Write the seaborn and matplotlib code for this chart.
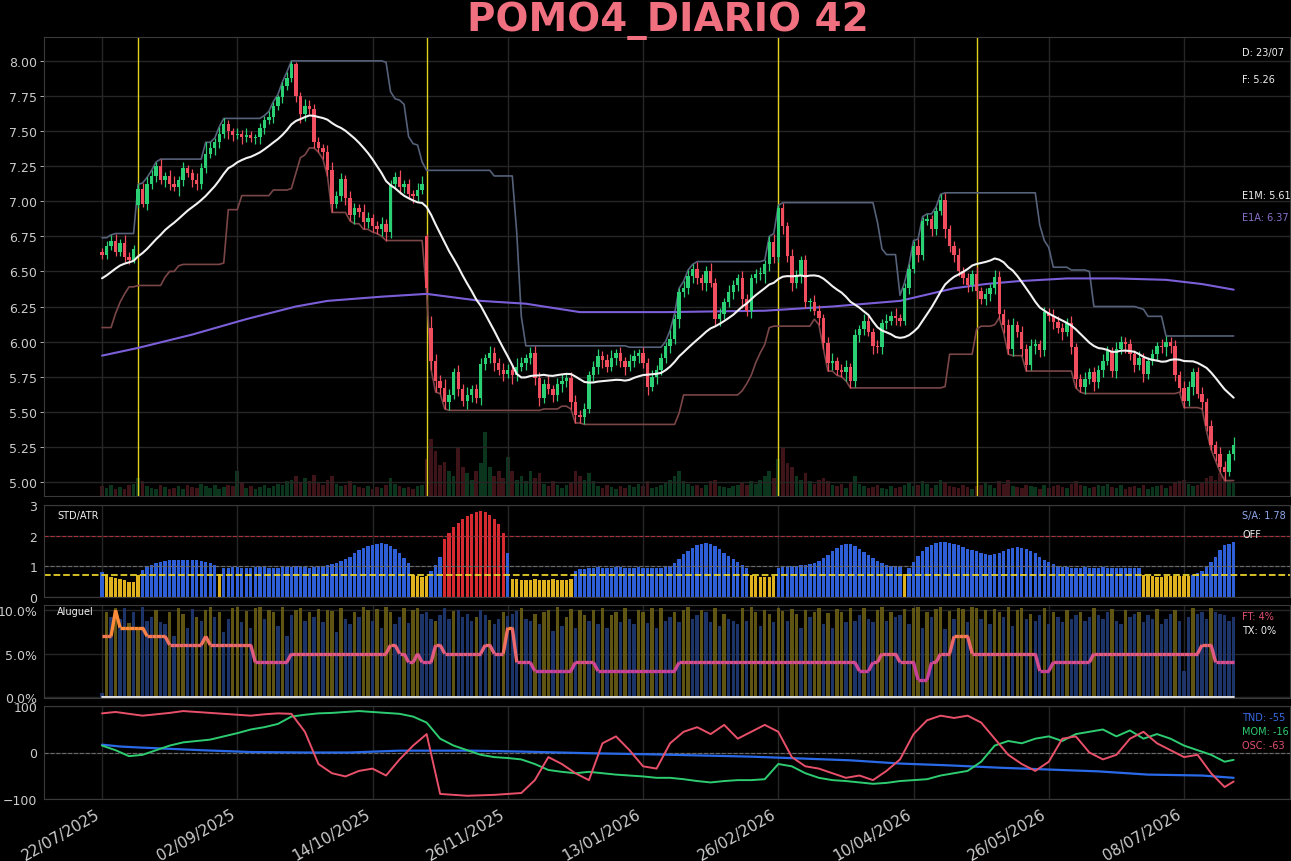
import numpy as np
import pandas as pd
import matplotlib
matplotlib.use("Agg")
import matplotlib.pyplot as plt
import seaborn as sns
from matplotlib.collections import LineCollection
from matplotlib.colors import LinearSegmentedColormap

# ---------------- data ----------------
titulo = "POMO4_DIARIO 42"
datas_ticks = ["22/07/2025", "02/09/2025", "14/10/2025", "26/11/2025", "13/01/2026",
               "26/02/2026", "10/04/2026", "26/05/2026", "08/07/2026"]
ticks_idx = [0, 30, 60, 90, 120, 150, 180, 210, 240]

# 20 bars before the first visible bar (needed by the 21-bar windows)
pre_fech = [6.25, 6.20, 6.14, 6.24, 6.32, 6.38, 6.44, 6.42, 6.48, 6.50,
            6.46, 6.52, 6.50, 6.45, 6.55, 6.58, 6.56, 6.62, 6.60, 6.64]
pre_max = [6.30, 6.28, 6.22, 6.28, 6.36, 6.42, 6.48, 6.47, 6.52, 6.55,
           6.53, 6.56, 6.56, 6.52, 6.60, 6.63, 6.62, 6.68, 6.70, 6.74]
pre_min = [6.18, 6.15, 6.10, 6.20, 6.28, 6.34, 6.39, 6.39, 6.42, 6.44,
           6.42, 6.44, 6.45, 6.40, 6.46, 6.52, 6.50, 6.54, 6.55, 6.57]

fechamento = [
    6.62, 6.68, 6.72, 6.64, 6.70, 6.60, 6.58, 6.66, 7.09, 6.98, 7.12, 7.18,
    7.25, 7.15, 7.18, 7.12, 7.10, 7.15, 7.24, 7.20, 7.15, 7.12, 7.24, 7.34,
    7.38, 7.42, 7.48, 7.55, 7.50, 7.47, 7.48, 7.46, 7.47, 7.45, 7.46, 7.52,
    7.58, 7.60, 7.68, 7.74, 7.82, 7.88, 7.98, 7.75, 7.62, 7.68, 7.66, 7.42,
    7.38, 7.35, 7.22, 6.98, 7.04, 7.16, 7.02, 6.90, 6.95, 6.92, 6.85, 6.88,
    6.82, 6.80, 6.84, 6.78, 7.12, 7.17, 7.10, 7.12, 7.05, 7.04, 7.08, 7.12,
    6.38, 5.86, 5.72, 5.67, 5.57, 5.62, 5.78, 5.66, 5.58, 5.62, 5.66, 5.60,
    5.84, 5.88, 5.92, 5.85, 5.80, 5.77, 5.80, 5.76, 5.82, 5.85, 5.88, 5.92,
    5.74, 5.60, 5.70, 5.66, 5.62, 5.70, 5.72, 5.74, 5.57, 5.48, 5.46, 5.52,
    5.76, 5.82, 5.90, 5.87, 5.82, 5.88, 5.92, 5.86, 5.82, 5.86, 5.90, 5.92,
    5.85, 5.68, 5.75, 5.80, 5.88, 5.97, 6.02, 6.16, 6.35, 6.38, 6.47, 6.52,
    6.45, 6.42, 6.50, 6.42, 6.16, 6.20, 6.28, 6.35, 6.40, 6.45, 6.30, 6.22,
    6.45, 6.48, 6.48, 6.55, 6.71, 6.60, 6.95, 6.82, 6.61, 6.42, 6.47, 6.58,
    6.28, 6.28, 6.22, 6.17, 5.99, 5.85, 5.86, 5.80, 5.78, 5.82, 5.72, 6.05,
    6.09, 6.15, 6.07, 5.97, 5.96, 6.13, 6.15, 6.18, 6.17, 6.15, 6.38, 6.52,
    6.68, 6.62, 6.86, 6.87, 6.80, 6.93, 7.01, 6.80, 6.68, 6.62, 6.50, 6.45,
    6.40, 6.48, 6.36, 6.30, 6.34, 6.38, 6.46, 6.20, 6.12, 5.95, 6.12, 6.07,
    5.95, 5.83, 5.97, 5.98, 5.94, 6.21, 6.18, 6.14, 6.10, 6.07, 6.13, 5.96,
    5.73, 5.68, 5.73, 5.78, 5.71, 5.80, 5.86, 5.93, 5.79, 5.95, 6.00, 5.98,
    5.91, 5.83, 5.88, 5.77, 5.86, 5.91, 5.97, 5.96, 6.00, 5.97, 5.76, 5.67,
    5.58, 5.68, 5.78, 5.63, 5.57, 5.40, 5.26, 5.20, 5.11, 5.07, 5.20, 5.26,
]
abertura_gap = {8: 6.97, 72: 6.75, 73: 6.10}

pavio_sup = [  # upper wick, cents
    3, 4, 4, 5, 3, 6, 4, 3, 3, 4, 5, 4, 3, 5, 3, 4, 6, 3, 4, 2, 3, 5, 3, 8,
    4, 3, 5, 4, 3, 2, 4, 3, 5, 3, 2, 4, 3, 4, 3, 2, 3, 4, 2, 1, 3, 5, 4, 3,
    4, 3, 5, 6, 3, 4, 3, 5, 4, 3, 6, 4, 3, 4, 5, 3, 3, 4, 5, 3, 4, 3, 5, 6,
    2, 8, 5, 4, 6, 4, 3, 5, 4, 6, 3, 4, 4, 3, 5, 4, 3, 5, 4, 3, 6, 4, 3, 4,
    5, 4, 3, 6, 3, 4, 5, 3, 4, 5, 3, 4, 3, 4, 5, 3, 4, 6, 3, 4, 3, 5, 4, 3,
    4, 3, 5, 3, 4, 3, 6, 4, 3, 5, 4, 3, 5, 3, 4, 6, 3, 4, 3, 5, 4, 3, 5, 4,
    3, 4, 5, 3, 4, 6, 2, 4, 3, 5, 4, 3, 4, 3, 5, 4, 3, 4, 6, 3, 4, 5, 3, 4,
    3, 5, 4, 3, 4, 3, 5, 4, 6, 3, 4, 3, 4, 5, 3, 4, 3, 3, 4, 5, 3, 4, 5, 3,
    4, 3, 5, 3, 4, 3, 5, 4, 3, 4, 5, 3, 4, 3, 5, 4, 3, 4, 3, 5, 4, 3, 4, 5,
    3, 4, 5, 3, 4, 3, 5, 4, 3, 5, 4, 3, 4, 3, 5, 4, 3, 4, 3, 5, 4, 3, 4, 3,
    5, 4, 3, 4, 5, 3, 4, 3, 5, 4, 3, 6,
]
pavio_inf = [  # lower wick, cents
    3, 3, 3, 3, 3, 3, 3, 2, 2, 2, 4, 3, 4, 3, 5, 4, 3, 6, 4, 3, 5, 4, 3, 4,
    3, 5, 4, 3, 6, 4, 3, 5, 4, 3, 4, 5, 4, 3, 4, 3, 4, 3, 3, 4, 6, 5, 4, 4,
    3, 5, 4, 6, 3, 4, 5, 4, 6, 3, 5, 4, 4, 3, 5, 6, 4, 3, 5, 4, 3, 5, 4, 3,
    3, 6, 8, 4, 5, 6, 3, 5, 4, 6, 5, 4, 5, 4, 3, 6, 4, 5, 3, 6, 4, 3, 5, 4,
    5, 6, 4, 3, 5, 4, 6, 4, 5, 6, 4, 5, 3, 4, 5, 6, 4, 3, 5, 4, 6, 3, 4, 5,
    4, 6, 3, 5, 4, 3, 5, 4, 6, 3, 4, 5, 4, 5, 6, 3, 4, 5, 4, 3, 5, 4, 6, 4,
    5, 3, 4, 6, 5, 4, 3, 5, 4, 6, 4, 5, 4, 6, 3, 5, 4, 6, 5, 4, 3, 6, 5, 4,
    5, 4, 3, 6, 4, 5, 4, 3, 5, 4, 3, 4, 3, 5, 4, 3, 5, 4, 3, 6, 4, 5, 3, 4,
    5, 4, 6, 3, 4, 5, 4, 3, 6, 4, 5, 4, 5, 4, 3, 6, 5, 4, 3, 5, 4, 6, 3, 5,
    6, 4, 5, 3, 6, 4, 5, 3, 4, 5, 4, 6, 4, 5, 3, 6, 4, 3, 5, 4, 6, 5, 4, 3,
    5, 4, 6, 3, 5, 4, 3, 5, 4, 6, 3, 4,
]
volume = [
    12, 10, 14, 9, 11, 8, 13, 15, 22, 18, 12, 10, 9, 14, 11, 8, 10, 12, 9, 13, 11, 10, 15, 12,
    10, 14, 9, 11, 13, 12, 30, 16, 10, 12, 9, 11, 13, 10, 12, 15, 14, 18, 20, 24, 16, 22, 18, 26,
    17, 14, 20, 25, 15, 12, 14, 18, 13, 11, 10, 12, 9, 11, 10, 13, 22, 15, 12, 10, 11, 9, 12, 14,
    45, 70, 55, 38, 42, 30, 25, 60, 35, 28, 20, 30, 40, 78, 35, 25, 30, 22, 48, 30, 20, 25, 18, 30,
    22, 28, 15, 12, 18, 14, 10, 13, 16, 30, 25, 20, 28, 18, 12, 10, 14, 11, 9, 12, 10, 13, 11, 15,
    12, 18, 10, 11, 14, 16, 20, 25, 30, 18, 15, 12, 14, 10, 13, 18, 20, 12, 11, 10, 12, 14, 16, 13,
    18, 15, 20, 25, 30, 22, 45, 60, 40, 35, 25, 20, 28, 18, 15, 20, 22, 18, 14, 12, 15, 10, 16, 24,
    15, 12, 10, 11, 13, 10, 9, 12, 10, 11, 14, 16, 12, 14, 18, 15, 10, 13, 20, 16, 12, 11, 10, 13,
    11, 9, 12, 14, 16, 13, 10, 18, 15, 20, 12, 11, 10, 14, 12, 11, 9, 13, 10, 12, 14, 11, 10, 15,
    18, 14, 12, 10, 11, 13, 12, 15, 11, 10, 13, 9, 11, 12, 10, 13, 9, 11, 12, 14, 10, 12, 16, 18,
    20, 15, 12, 14, 16, 22, 25, 20, 28, 24, 18, 16,
]
# long average (E1A) read at these bars
e1a_idx = [0, 8, 20, 32, 43, 50, 62, 72, 84, 94, 106, 125, 147, 162, 177, 189, 196, 203, 214, 225, 236, 244, 251]
e1a_val = [5.90, 5.955, 6.05, 6.16, 6.25, 6.29, 6.32, 6.34, 6.29, 6.27, 6.21, 6.21, 6.22, 6.25, 6.29,
           6.38, 6.41, 6.43, 6.45, 6.45, 6.44, 6.41, 6.37]
sinais = [8, 72, 150, 194]

std_atr = [
    0.83, 0.72, 0.66, 0.62, 0.58, 0.55, 0.50, 0.50, 0.72, 0.88, 0.98, 1.05,
    1.12, 1.15, 1.18, 1.20, 1.22, 1.20, 1.22, 1.20, 1.22, 1.20, 1.18, 1.15,
    1.12, 1.05, 0.74, 0.95, 0.96, 0.98, 0.97, 0.96, 0.95, 0.96, 0.97, 0.98,
    0.97, 0.96, 0.95, 0.96, 0.97, 0.98, 0.99, 1.00, 0.98, 0.97, 0.96, 0.98,
    1.00, 1.02, 1.05, 1.08, 1.12, 1.18, 1.25, 1.32, 1.42, 1.52, 1.60, 1.66,
    1.70, 1.74, 1.75, 1.72, 1.66, 1.55, 1.42, 1.28, 1.12, 0.72, 0.70, 0.66,
    0.68, 0.85, 1.05, 1.30, 1.90, 2.10, 2.28, 2.42, 2.55, 2.65, 2.72, 2.78,
    2.80, 2.76, 2.68, 2.55, 2.38, 2.10, 1.45, 0.60, 0.58, 0.56, 0.55, 0.57,
    0.58, 0.56, 0.55, 0.57, 0.58, 0.56, 0.55, 0.57, 0.58, 0.85, 0.90, 0.92,
    0.95, 0.96, 0.97, 0.96, 0.95, 0.96, 0.97, 0.98, 0.96, 0.95, 0.96, 0.97,
    0.96, 0.95, 0.94, 0.95, 0.96, 0.98, 1.02, 1.10, 1.25, 1.40, 1.50, 1.60,
    1.68, 1.72, 1.75, 1.72, 1.65, 1.55, 1.45, 1.35, 1.25, 1.15, 1.05, 0.95,
    0.72, 0.68, 0.65, 0.64, 0.66, 0.70, 0.95, 1.00, 1.02, 1.00, 1.01, 1.03,
    1.05, 1.08, 1.12, 1.18, 1.26, 1.38, 1.50, 1.60, 1.68, 1.74, 1.72, 1.66,
    1.56, 1.46, 1.36, 1.26, 1.16, 1.10, 1.05, 1.02, 1.00, 0.98, 0.76, 0.95,
    1.15, 1.35, 1.50, 1.62, 1.70, 1.76, 1.80, 1.79, 1.76, 1.72, 1.68, 1.63,
    1.58, 1.54, 1.50, 1.45, 1.40, 1.38, 1.40, 1.45, 1.50, 1.55, 1.60, 1.62,
    1.60, 1.56, 1.50, 1.42, 1.32, 1.22, 1.14, 1.06, 1.00, 0.98, 0.97, 0.96,
    0.95, 0.96, 0.97, 0.96, 0.95, 0.96, 0.97, 0.96, 0.95, 0.96, 0.95, 0.94,
    0.95, 0.94, 0.93, 0.72, 0.70, 0.68, 0.66, 0.65, 0.67, 0.69, 0.70, 0.68,
    0.67, 0.69, 0.72, 0.78, 0.85, 1.00, 1.14, 1.30, 1.52, 1.68, 1.74, 1.78,
]
std_estado = ("BYYYYYYYYBBB" "BBBBBBBBBBBB" "BBYBBBBBBBBB" "BBBBBBBBBBBB" "BBBBBBBBBBBB"
              "BBBBBBBBBYYY" "YBBBRRRRRRRR" "RRRRRRBYYYYY" "YYYYYYYYYBBB" "BBBBBBBBBBBB"
              "BBBBBBBBBBBB" "BBBBBBBBBBBB" "YYYYYYBBBBBB" "BBBBBBBBBBBB" "BBBBBBBBBBYB"
              "BBBBBBBBBBBB" "BBBBBBBBBBBB" "BBBBBBBBBBBB" "BBBBBBBBBBBB" "BBBYYYYYYYYY"
              "YYBBBBBBBBBB")

aluguel_alt = [  # tenths of a percent
    5, 98, 92, 102, 90, 102, 85, 98, 80, 104, 88, 92, 100, 86, 84, 98, 70, 102, 96, 80, 101, 92, 88, 100,
    104, 92, 98, 75, 90, 102, 104, 86, 99, 80, 102, 104, 90, 100, 98, 82, 104, 70, 95, 100, 103, 88, 98, 92,
    101, 86, 100, 99, 75, 103, 90, 84, 98, 92, 104, 100, 88, 101, 80, 104, 98, 84, 92, 103, 85, 100, 102, 96,
    98, 90, 88, 94, 102, 90, 99, 100, 92, 96, 88, 92, 100, 94, 89, 84, 90, 98, 93, 96, 99, 102, 90, 88,
    96, 84, 98, 100, 76, 104, 82, 92, 101, 80, 100, 95, 88, 100, 84, 103, 80, 95, 98, 86, 102, 90, 84, 100,
    98, 85, 102, 80, 103, 88, 92, 98, 86, 100, 104, 90, 95, 100, 98, 86, 102, 82, 96, 90, 88, 84, 102, 88,
    104, 98, 82, 100, 96, 86, 103, 99, 88, 101, 96, 80, 100, 92, 98, 103, 84, 97, 80, 101, 98, 86, 102, 88,
    94, 103, 90, 86, 100, 104, 88, 98, 92, 95, 101, 84, 102, 104, 80, 98, 92, 101, 104, 78, 99, 90, 103, 101,
    86, 104, 102, 90, 100, 84, 101, 98, 92, 104, 82, 100, 102, 90, 96, 88, 94, 103, 84, 98, 92, 86, 100, 90,
    95, 98, 88, 92, 102, 94, 90, 98, 101, 88, 84, 100, 92, 96, 98, 86, 94, 90, 101, 84, 90, 96, 100, 88,
    30, 92, 102, 96, 98, 90, 102, 98, 96, 94, 88, 92,
]
aluguel_cor = ("BOBOBBOBOBBB" "OBBOBOOBBOBO" "OBOBBOOBOBOO" "BOOBOBBOOBOB" "OBOOBOBBOBOO"
               "BOBOOBBOBOOB" "BBOBBBOBBBBO" "BBOBBOBBBOBB" "OBOOBOBOOBOO" "BOBOBOOBOBBO"
               "OBOBOBBOBOOB" "BOBBOBOBBBOB" "OOBOOBOOBOOB" "OBOOBOBOOBOB" "BOBBOOBOBBOB"
               "OOBOBOOBOBOO" "BOOBOBOOBOBO" "OBOBBOBOBBOB" "BOBBOBBBOBBO" "BBOBBBOBBBOB"
               "BBOBBBOBBBBB")
# FT (%) as runs: level, number of bars
ft_nivel = [7, 10, 8, 7, 6, 7, 6, 4, 5, 6, 5, 4, 5, 4, 6, 5, 6, 5, 8, 4, 3, 4, 3, 4,
            3, 4, 5, 4, 2, 4, 5, 7, 5, 3, 4, 5, 6, 4]
ft_barras = [3, 1, 6, 5, 8, 1, 10, 8, 22, 2, 2, 2, 1, 3, 2, 9, 2, 3, 2, 4, 9, 5, 18, 40,
             3, 2, 4, 4, 3, 2, 3, 4, 15, 3, 9, 24, 3, 5]
tx_pct = 0.0

osc_idx = list(range(0, 250, 3)) + [251]
osc_val = [85, 88, 84, 80, 83, 86, 90, 88, 86, 84, 82, 80, 83, 85, 84, 45, -25, -45, -52, -40,
           -35, -50, -15, 15, 40, -90, -92, -94, -93, -92, -90, -88, -60, -10, -25, -45, -60, 20,
           35, 5, -30, -35, 20, 45, 55, 40, 60, 30, 45, 60, 45, -10, -30, -35, -45, -55, -50, -60,
           -40, -15, 40, 70, 80, 75, 80, 65, 30, -5, -25, -40, -20, 30, 35, 0, -15, -5, 30, 45,
           20, 5, -10, -5, -45, -75, -63]
mom_val = [15, 5, -8, -5, 5, 15, 22, 25, 28, 35, 42, 50, 55, 62, 78, 82, 85, 86, 88, 90,
           88, 86, 84, 78, 65, 30, 15, 5, -5, -10, -12, -15, -25, -38, -42, -45, -42, -45,
           -48, -50, -52, -55, -55, -58, -62, -65, -62, -60, -60, -58, -25, -30, -45, -55, -60, -62,
           -65, -68, -66, -62, -60, -58, -50, -45, -40, -20, 15, 25, 20, 30, 35, 25, 40, 45,
           50, 35, 48, 30, 40, 30, 15, 5, -5, -20, -16]
tnd_idx = [0, 4, 8, 15, 22, 33, 45, 55, 66, 82, 93, 110, 122, 144, 155, 166, 177, 188, 199, 210, 221, 232, 244, 251]
tnd_val = [17, 13, 11, 8, 5, 1, 0, 0, 4, 4, 2, -2, -4, -9, -13, -17, -24, -28, -33, -37, -41, -48, -50, -55]

rotulos = {"D": "23/07", "F": "5.26", "E1M": "5.61", "E1A": "6.37", "S/A": "1.78",
           "FT": "4%", "TX": "0%", "TND": "-55", "MOM": "-16", "OSC": "-63"}

# ---------------- derived ----------------
n = len(fechamento)
for nome, arr in [("pavio_sup", pavio_sup), ("pavio_inf", pavio_inf), ("volume", volume),
                  ("std_atr", std_atr), ("std_estado", std_estado), ("aluguel_alt", aluguel_alt),
                  ("aluguel_cor", aluguel_cor)]:
    assert len(arr) == n, (nome, len(arr))
assert sum(ft_barras) == n, sum(ft_barras)
assert len(osc_val) == len(osc_idx) == len(mom_val), (len(osc_val), len(osc_idx), len(mom_val))

idx = np.arange(n)
c = np.array(fechamento, float)
o = np.r_[pre_fech[-1], c[:-1]]
for k, v in abertura_gap.items():
    o[k] = v
top = np.maximum(o, c)
bot = np.minimum(o, c)
hi = top + np.array(pavio_sup) / 100
lo = bot - np.array(pavio_inf) / 100
Hs = pd.Series(np.r_[pre_max, hi])
Ls = pd.Series(np.r_[pre_min, lo])
Cs = pd.Series(np.r_[pre_fech, c])
canal_sup = Hs.rolling(21).max().values[-n:]
canal_inf = Ls.rolling(21).min().values[-n:]
e1m = Cs.rolling(21).mean().values[-n:]
ft = np.repeat(ft_nivel, ft_barras).astype(float)

# ---------------- style ----------------
sns.set_theme(style="dark", rc={
    "figure.facecolor": "#000000", "axes.facecolor": "#000000",
    "axes.edgecolor": "#3a3a3a", "grid.color": "#262626", "axes.grid": True,
    "text.color": "#e0e0e0", "xtick.color": "#cccccc", "ytick.color": "#cccccc",
    "axes.labelcolor": "#cccccc"})
plt.rcParams["font.family"] = ["DejaVu Sans"]

VERDE = "#2bcf74"
VERMELHO = "#f04e5e"

fig = plt.figure(figsize=(12.91, 8.62), dpi=100)
L0, W0 = 44 / 1291, (1290 - 44) / 1291
ax1 = fig.add_axes([L0, 1 - 497 / 862, W0, 459 / 862])
ax2 = fig.add_axes([L0, 1 - 598 / 862, W0, 92 / 862], sharex=ax1)
ax3 = fig.add_axes([L0, 1 - 699 / 862, W0, 93 / 862], sharex=ax1)
ax4 = fig.add_axes([L0, 1 - 800 / 862, W0, 93 / 862], sharex=ax1)

for ax in (ax1, ax2, ax3, ax4):
    ax.set_facecolor("#000000")
    ax.grid(True, color="#262626", lw=1)
    for s in ax.spines.values():
        s.set_color("#3a3a3a")
        s.set_linewidth(0.8)
    ax.tick_params(axis="both", colors="#cccccc", labelsize=9, length=3, width=0.6, pad=2)

# ---- main panel ----
sobe = c >= o
cores = np.where(sobe, VERDE, VERMELHO)
axv = ax1.twinx()
axv.bar(idx, volume, width=0.8, color=cores, alpha=0.26, lw=0)
axv.set_ylim(0, 560)
axv.set_yticks([])
axv.grid(False)
for s in axv.spines.values():
    s.set_visible(False)
ax1.set_zorder(axv.get_zorder() + 1)
ax1.patch.set_visible(False)

for s in sinais:
    ax1.axvline(s, color="#e3d21c", lw=1.0, zorder=1)

sns.lineplot(x=idx, y=canal_sup, ax=ax1, color="#56617a", lw=1.2, zorder=2)
sns.lineplot(x=idx, y=canal_inf, ax=ax1, color="#7a4648", lw=1.2, zorder=2)
sns.lineplot(x=e1a_idx, y=e1a_val, ax=ax1, color="#7b5fd8", lw=1.5, zorder=2)
ax1.vlines(idx, lo, hi, colors=cores, lw=0.9, zorder=3)
ax1.bar(idx, np.maximum(top - bot, 0.008), bottom=bot, width=0.75, color=cores, lw=0, zorder=4)
sns.lineplot(x=idx, y=e1m, ax=ax1, color="#f2f2f2", lw=1.5, zorder=5)

ax1.set_ylim(4.90, 8.17)
ax1.set_yticks(np.arange(5.0, 8.01, 0.25))
ax1.set_yticklabels([f"{v:.2f}" for v in np.arange(5.0, 8.01, 0.25)])
tx = 0.9615
fs = 7
ax1.text(tx, 0.967, f"D: {rotulos['D']}", transform=ax1.transAxes, fontsize=fs, color="#f0f0f0", va="center")
ax1.text(tx, 0.9085, f"F: {rotulos['F']}", transform=ax1.transAxes, fontsize=fs, color="#f0f0f0", va="center")
ax1.text(tx, 0.656, f"E1M: {rotulos['E1M']}", transform=ax1.transAxes, fontsize=fs, color="#f0f0f0", va="center")
ax1.text(tx, 0.608, f"E1A: {rotulos['E1A']}", transform=ax1.transAxes, fontsize=fs, color="#8a72cc", va="center")

# ---- STD/ATR ----
mapa = {"B": "#2f5fd6", "Y": "#e0b21e", "R": "#d42a30"}
ax2.bar(idx, std_atr, width=0.75, color=[mapa[k] for k in std_estado], lw=0)
ax2.axhline(2, color="#a8303c", ls="--", lw=0.8)
ax2.axhline(1, color="#6a6a6a", ls="--", lw=0.8)
ax2.axhline(0.73, color="#e8d028", ls="--", lw=1.3)
ax2.set_ylim(0, 3)
ax2.set_yticks([0, 1, 2, 3])
ax2.text(0.0104, 0.89, "STD/ATR", transform=ax2.transAxes, fontsize=fs, color="#f0f0f0", va="center")
ax2.text(tx, 0.89, f"S/A: {rotulos['S/A']}", transform=ax2.transAxes, fontsize=fs, color="#8fa8ec", va="center")
ax2.text(tx, 0.685, "OFF", transform=ax2.transAxes, fontsize=fs, color="#f0f0f0", va="center")

# ---- Aluguel ----
mapa3 = {"B": "#213a74", "O": "#6a5e14"}
ax3.bar(idx, np.array(aluguel_alt) / 10, width=0.75, color=[mapa3[k] for k in aluguel_cor], lw=0, alpha=0.9)
sns.lineplot(x=idx, y=np.full(n, tx_pct), ax=ax3, color="#f0f0f0", lw=1.3)
pts = np.column_stack([idx, ft]).reshape(-1, 1, 2)
segs = np.concatenate([pts[:-1], pts[1:]], axis=1)
cmap = LinearSegmentedColormap.from_list("ft", ["#c8409a", "#e8607a", "#ff8a3a"])
lc = LineCollection(segs, cmap=cmap, norm=plt.Normalize(3, 8), lw=2.4, zorder=5)
lc.set_array((ft[:-1] + ft[1:]) / 2)
ax3.add_collection(lc)
ax3.set_ylim(-0.1, 10.6)
ax3.set_yticks([0, 5, 10])
ax3.set_yticklabels(["0.0%", "5.0%", "10.0%"])
ax3.text(0.0104, 0.935, "Aluguel", transform=ax3.transAxes, fontsize=fs, color="#f0f0f0", va="center")
ax3.text(tx, 0.88, f"FT: {rotulos['FT']}", transform=ax3.transAxes, fontsize=fs, color="#e05070", va="center")
ax3.text(tx, 0.73, f"TX: {rotulos['TX']}", transform=ax3.transAxes, fontsize=fs, color="#f0f0f0", va="center")

# ---- TND / MOM / OSC ----
ax4.axhline(0, color="#6a6a6a", ls="--", lw=0.8)
sns.lineplot(x=tnd_idx, y=tnd_val, ax=ax4, color="#2a6ae8", lw=1.6)
sns.lineplot(x=osc_idx, y=mom_val, ax=ax4, color="#2ecc71", lw=1.4)
sns.lineplot(x=osc_idx, y=osc_val, ax=ax4, color="#e8506a", lw=1.4)
ax4.set_ylim(-101, 101)
ax4.set_yticks([-100, 0, 100])
ax4.text(tx, 0.88, f"TND: {rotulos['TND']}", transform=ax4.transAxes, fontsize=fs, color="#3a6ae0", va="center")
ax4.text(tx, 0.73, f"MOM: {rotulos['MOM']}", transform=ax4.transAxes, fontsize=fs, color="#2ecc71", va="center")
ax4.text(tx, 0.58, f"OSC: {rotulos['OSC']}", transform=ax4.transAxes, fontsize=fs, color="#e05070", va="center")

for ax in (ax1, ax2, ax3, ax4):
    ax.set_ylabel("")
    ax.set_xlabel("")
ax4.set_xticks(ticks_idx)
ax4.set_xticklabels(datas_ticks, rotation=30, ha="right", fontsize=11, color="#cccccc")
for ax in (ax1, ax2, ax3):
    plt.setp(ax.get_xticklabels(), visible=False)
ax1.set_xlim(-12.87, 263.5)

fig.text(0.5174, 1 - 31 / 862, titulo, ha="center", va="baseline", fontsize=28,
         fontweight="bold", color="#f07080")

fig.savefig("out.png", dpi=100, facecolor="#000000")
